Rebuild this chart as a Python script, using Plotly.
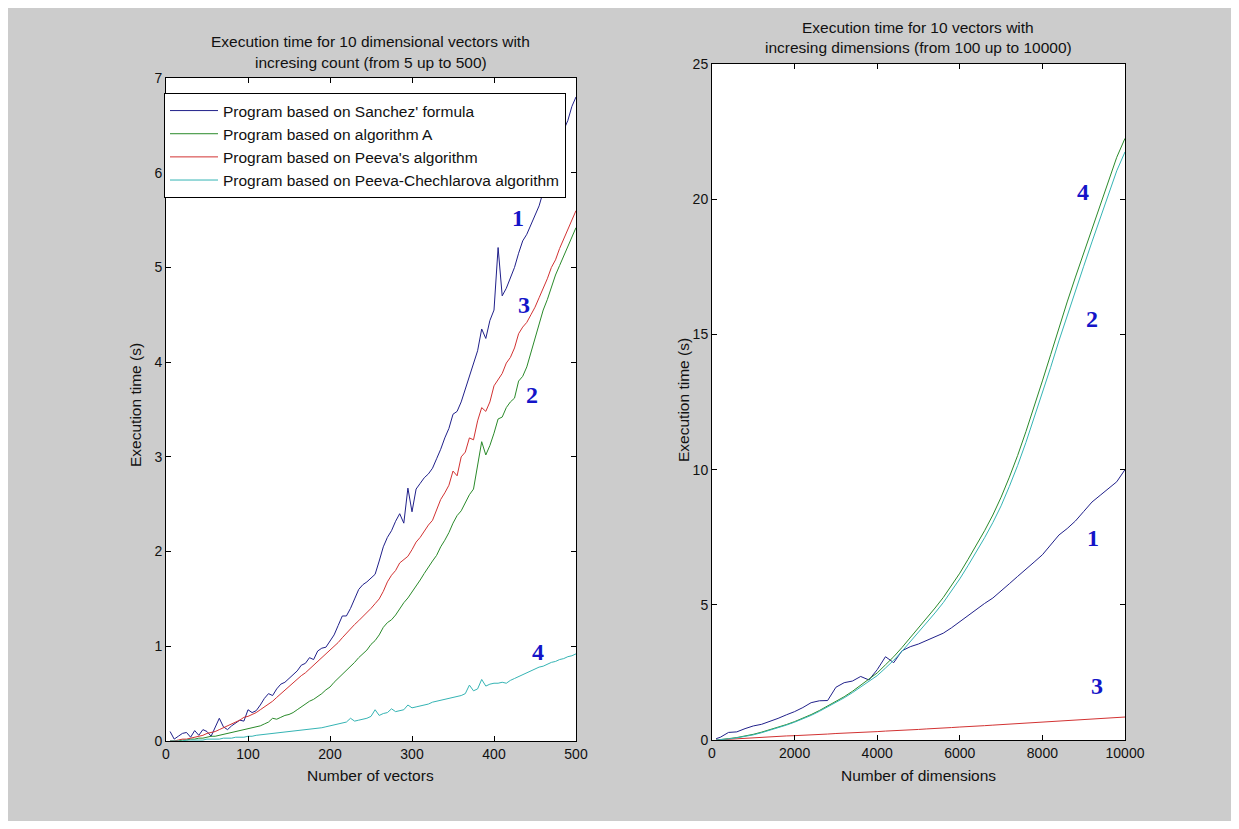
import plotly.graph_objects as go

# ---------------- data: left panel (10-dimensional vectors, increasing count) ----------------
count_x = [5, 10, 15, 20, 25, 30, 35, 40, 45, 50, 55, 60, 65, 70, 75, 80, 85, 90, 95, 100,
           105, 110, 115, 120, 125, 130, 135, 140, 145, 150, 155, 160, 165, 170, 175, 180, 185, 190, 195, 200,
           205, 210, 215, 220, 225, 230, 235, 240, 245, 250, 255, 260, 265, 270, 275, 280, 285, 290, 295, 300,
           305, 310, 315, 320, 325, 330, 335, 340, 345, 350, 355, 360, 365, 370, 375, 380, 385, 390, 395, 400,
           405, 410, 415, 420, 425, 430, 435, 440, 445, 450, 455, 460, 465, 470, 475, 480, 485, 490, 495, 500]

sanchez_count = [0.10, 0.02, 0.05, 0.08, 0.09, 0.04, 0.11, 0.06, 0.12, 0.10, 0.05, 0.14, 0.24, 0.15, 0.12, 0.16, 0.19, 0.22, 0.21, 0.33,
                 0.30, 0.32, 0.38, 0.45, 0.50, 0.48, 0.55, 0.60, 0.62, 0.66, 0.71, 0.74, 0.80, 0.82, 0.88, 0.86, 0.95, 0.98, 0.99, 1.05,
                 1.12, 1.22, 1.32, 1.32, 1.40, 1.50, 1.60, 1.65, 1.68, 1.72, 1.76, 1.90, 2.05, 2.15, 2.22, 2.32, 2.40, 2.30, 2.67, 2.42,
                 2.66, 2.72, 2.78, 2.82, 2.88, 2.98, 3.08, 3.20, 3.30, 3.45, 3.48, 3.58, 3.72, 3.85, 3.98, 4.12, 4.35, 4.25, 4.44, 4.55,
                 5.21, 4.70, 4.78, 4.88, 5.00, 5.15, 5.28, 5.35, 5.45, 5.55, 5.65, 5.80, 5.95, 6.05, 6.20, 6.35, 6.45, 6.55, 6.70, 6.80]

algA_count = [0.00, 0.00, 0.00, 0.01, 0.01, 0.02, 0.02, 0.03, 0.03, 0.04, 0.05, 0.05, 0.06, 0.07, 0.08, 0.09, 0.10, 0.11, 0.12, 0.13,
              0.14, 0.15, 0.16, 0.18, 0.20, 0.24, 0.23, 0.25, 0.27, 0.28, 0.30, 0.33, 0.36, 0.39, 0.42, 0.44, 0.47, 0.50, 0.54, 0.57,
              0.62, 0.66, 0.70, 0.74, 0.78, 0.83, 0.88, 0.92, 0.96, 1.02, 1.06, 1.12, 1.20, 1.25, 1.28, 1.33, 1.40, 1.46, 1.51, 1.57,
              1.64, 1.70, 1.77, 1.84, 1.90, 1.96, 2.05, 2.12, 2.20, 2.30, 2.38, 2.43, 2.52, 2.60, 2.66, 2.90, 3.16, 3.02, 3.12, 3.25,
              3.40, 3.42, 3.52, 3.58, 3.62, 3.80, 3.85, 3.95, 4.10, 4.25, 4.40, 4.55, 4.66, 4.80, 4.92, 5.02, 5.12, 5.22, 5.32, 5.42]

peeva_count = [0.00, 0.00, 0.01, 0.02, 0.02, 0.03, 0.04, 0.05, 0.06, 0.08, 0.09, 0.10, 0.12, 0.14, 0.16, 0.18, 0.20, 0.22, 0.25, 0.26,
               0.28, 0.30, 0.33, 0.36, 0.39, 0.42, 0.46, 0.50, 0.53, 0.57, 0.61, 0.65, 0.69, 0.72, 0.76, 0.80, 0.83, 0.87, 0.91, 0.95,
               1.00, 1.04, 1.09, 1.14, 1.18, 1.23, 1.27, 1.31, 1.36, 1.40, 1.45, 1.50, 1.58, 1.68, 1.75, 1.80, 1.88, 1.92, 1.95, 2.02,
               2.10, 2.15, 2.22, 2.28, 2.33, 2.45, 2.55, 2.62, 2.70, 2.85, 2.80, 3.00, 3.05, 3.20, 3.18, 3.38, 3.52, 3.48, 3.58, 3.75,
               3.82, 3.88, 3.99, 4.05, 4.15, 4.30, 4.37, 4.42, 4.50, 4.58, 4.68, 4.78, 4.88, 5.00, 5.08, 5.20, 5.30, 5.40, 5.50, 5.60]

pc_count = [0.00, 0.00, 0.00, 0.00, 0.01, 0.01, 0.01, 0.01, 0.01, 0.02, 0.02, 0.02, 0.02, 0.03, 0.03, 0.03, 0.04, 0.04, 0.04, 0.05,
            0.05, 0.06, 0.065, 0.07, 0.07, 0.08, 0.08, 0.09, 0.09, 0.10, 0.10, 0.11, 0.11, 0.12, 0.12, 0.13, 0.13, 0.14, 0.15, 0.16,
            0.17, 0.18, 0.19, 0.20, 0.24, 0.21, 0.22, 0.23, 0.24, 0.26, 0.33, 0.27, 0.29, 0.30, 0.34, 0.31, 0.32, 0.33, 0.38, 0.35,
            0.36, 0.37, 0.38, 0.39, 0.41, 0.42, 0.43, 0.44, 0.45, 0.46, 0.47, 0.48, 0.50, 0.59, 0.53, 0.55, 0.65, 0.58, 0.60, 0.61,
            0.61, 0.62, 0.61, 0.64, 0.66, 0.68, 0.70, 0.72, 0.74, 0.76, 0.78, 0.79, 0.81, 0.83, 0.84, 0.86, 0.87, 0.89, 0.90, 0.92]

# ---------------- data: right panel (10 vectors, increasing dimensions) ----------------
dim_x = [100, 200, 400, 600, 800, 1000, 1200, 1400, 1600, 1800, 2000, 2200, 2400, 2600, 2800, 3000, 3200,
         3400, 3600, 3800, 4000, 4200, 4400, 4600, 4800, 5000, 5200, 5400, 5600, 5800, 6000, 6200, 6400,
         6600, 6800, 7000, 7200, 7400, 7600, 7800, 8000, 8200, 8400, 8600, 8800, 9000, 9200, 9400, 9600,
         9800, 10000]

sanchez_dim = [0.05, 0.10, 0.28, 0.30, 0.42, 0.52, 0.58, 0.68, 0.80, 0.93, 1.05, 1.20, 1.38, 1.45, 1.46, 1.95, 2.12,
               2.18, 2.35, 2.22, 2.60, 3.08, 2.86, 3.30, 3.45, 3.55, 3.68, 3.80, 3.95, 4.15, 4.38, 4.60, 4.82,
               5.05, 5.25, 5.50, 5.78, 6.05, 6.30, 6.58, 6.85, 7.22, 7.58, 7.82, 8.10, 8.45, 8.80, 9.05, 9.30,
               9.55, 10.00]

algA_dim = [0.00, 0.01, 0.05, 0.09, 0.14, 0.21, 0.29, 0.38, 0.47, 0.57, 0.68, 0.80, 0.94, 1.09, 1.25, 1.41, 1.60,
            1.80, 2.02, 2.24, 2.48, 2.78, 3.08, 3.42, 3.78, 4.15, 4.52, 4.88, 5.27, 5.70, 6.17, 6.68, 7.20,
            7.74, 8.32, 8.98, 9.72, 10.52, 11.40, 12.32, 13.28, 14.25, 15.25, 16.20, 17.12, 18.02, 18.92, 19.82, 20.70,
            21.55, 22.25]

peeva_dim = [0.00, 0.01, 0.03, 0.04, 0.06, 0.07, 0.09, 0.11, 0.13, 0.15, 0.16, 0.17, 0.19, 0.21, 0.22, 0.24, 0.25,
             0.27, 0.28, 0.30, 0.31, 0.33, 0.34, 0.36, 0.37, 0.39, 0.41, 0.42, 0.44, 0.46, 0.48, 0.49, 0.51,
             0.53, 0.55, 0.57, 0.59, 0.61, 0.63, 0.65, 0.67, 0.69, 0.71, 0.73, 0.75, 0.76, 0.78, 0.80, 0.81,
             0.83, 0.85]

pc_dim = [0.00, 0.01, 0.04, 0.08, 0.13, 0.19, 0.27, 0.36, 0.45, 0.55, 0.66, 0.78, 0.91, 1.06, 1.22, 1.38, 1.56,
          1.75, 1.96, 2.16, 2.38, 2.66, 2.95, 3.28, 3.63, 3.99, 4.35, 4.70, 5.08, 5.50, 5.96, 6.45, 6.96,
          7.48, 8.04, 8.66, 9.38, 10.15, 11.00, 11.90, 12.82, 13.78, 14.76, 15.70, 16.62, 17.52, 18.42, 19.32, 20.20,
          21.05, 21.75]

series_names = ["Program based on Sanchez' formula", "Program based on algorithm A",
                "Program based on Peeva's algorithm", "Program based on Peeva-Chechlarova algorithm"]
series_colors = ["#20208a", "#2a8a2a", "#d23232", "#35b4b4"]

# curve number labels
left_labels_text = ["1", "3", "2", "4"]
left_labels_x = [429, 436, 446, 454]
left_labels_y = [5.52, 4.60, 3.65, 0.94]
right_labels_text = ["4", "2", "1", "3"]
right_labels_x = [8984, 9202, 9226, 9323]
right_labels_y = [20.26, 15.56, 7.48, 2.0]

left_xticks = [0, 100, 200, 300, 400, 500]
left_yticks = [0, 1, 2, 3, 4, 5, 6, 7]
right_xticks = [0, 2000, 4000, 6000, 8000, 10000]
right_xticklabels = ["0", "2000", "4000", "6000", "8000", "10000"]
right_yticks = [0, 5, 10, 15, 20, 25]

# ---------------- figure ----------------
# the page body keeps an 8px margin, so the figure is 16px smaller than the window
OFF = 8
W, H = 1239 - 2 * OFF, 829 - 2 * OFF
FONT = "Liberation Sans, Arial, Helvetica, sans-serif"

fig = go.Figure()

left_series = [sanchez_count, algA_count, peeva_count, pc_count]
right_series = [sanchez_dim, algA_dim, peeva_dim, pc_dim]

for i, (name, col, ys) in enumerate(zip(series_names, series_colors, left_series)):
    fig.add_trace(go.Scatter(x=count_x, y=ys, mode="lines", name=name,
                             line=dict(color=col, width=1), xaxis="x", yaxis="y",
                             legendgroup=f"g{i}", showlegend=True))
for i, (name, col, ys) in enumerate(zip(series_names, series_colors, right_series)):
    fig.add_trace(go.Scatter(x=dim_x, y=ys, mode="lines", name=name,
                             line=dict(color=col, width=1), xaxis="x2", yaxis="y2",
                             legendgroup=f"g{i}", showlegend=False))


def px_x(p):
    return (p - OFF) / W


def px_y(p):
    return 1 - (p - OFF) / H


axis_common = dict(showline=True, linecolor="black", linewidth=1, mirror="ticks",
                   ticks="inside", ticklen=5, tickcolor="black", showgrid=False,
                   zeroline=False, automargin=False,
                   tickfont=dict(family=FONT, size=14, color="#111111"),
                   fixedrange=True)

fig.update_layout(
    width=W, height=H,
    margin=dict(l=0, r=0, t=0, b=0, autoexpand=False),
    paper_bgcolor="#cccccc",
    plot_bgcolor="white",
    font=dict(family=FONT, size=14, color="black"),
    xaxis=dict(domain=[px_x(166), px_x(576)], range=[0, 500], tickvals=left_xticks,
               anchor="y", **axis_common),
    yaxis=dict(domain=[px_y(741), px_y(78)], range=[0, 7], tickvals=left_yticks,
               anchor="x", **axis_common),
    xaxis2=dict(domain=[px_x(712), px_x(1125)], range=[0, 10000], tickvals=right_xticks,
                ticktext=right_xticklabels, anchor="y2", **axis_common),
    yaxis2=dict(domain=[px_y(740), px_y(64)], range=[0, 25], tickvals=right_yticks,
                anchor="x2", **axis_common),
    legend=dict(x=px_x(164), y=px_y(93), xanchor="left", yanchor="top",
                bgcolor="white", bordercolor="black", borderwidth=1,
                font=dict(family=FONT, size=15.5, color="#111111"),
                traceorder="grouped", tracegroupgap=0, itemwidth=48),
    showlegend=True,
)

text_font = dict(family=FONT, size=15.5, color="#111111")


def add_text(txt, xp, yp, angle=0):
    fig.add_annotation(text=txt, xref="paper", yref="paper", x=px_x(xp), y=px_y(yp),
                       xanchor="center", yanchor="middle", showarrow=False,
                       textangle=angle, font=text_font)


# titles
add_text("Execution time for 10 dimensional vectors with", 371, 42)
add_text("incresing count (from 5 up to 500)", 371, 63)
add_text("Execution time for 10 vectors with", 918.5, 27)
add_text("incresing dimensions (from 100 up to 10000)", 918.5, 47)
# axis titles
add_text("Number of vectors", 371, 775)
add_text("Number of dimensions", 918.5, 775)
add_text("Execution time (s)", 135, 405, -90)
add_text("Execution time (s)", 683, 400, -90)

num_font = dict(family="Liberation Serif, Times New Roman, serif", size=24, color="#1414c8")
for t, xv, yv in zip(left_labels_text, left_labels_x, left_labels_y):
    fig.add_annotation(text=f"<b>{t}</b>", x=xv, y=yv, xref="x", yref="y",
                       showarrow=False, font=num_font)
for t, xv, yv in zip(right_labels_text, right_labels_x, right_labels_y):
    fig.add_annotation(text=f"<b>{t}</b>", x=xv, y=yv, xref="x2", yref="y2",
                       showarrow=False, font=num_font)

fig.write_html("out.html", include_plotlyjs=True, config={"displayModeBar": False})
